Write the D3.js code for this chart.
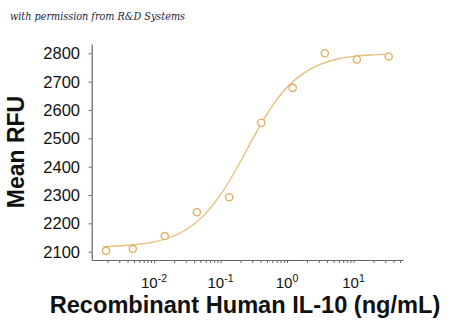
<!DOCTYPE html>
<html><head><meta charset="utf-8">
<script src="https://cdn.jsdelivr.net/npm/d3@7"></script>
<style>body{margin:0;background:#fff}svg{display:block}</style>
</head><body>
<script>
// Data
const conc = [0.0019, 0.0048, 0.0145, 0.044, 0.135, 0.41, 1.22, 3.7, 11.2, 33.8];
const rfu  = [2103, 2110, 2155, 2239, 2292, 2555, 2678, 2800, 2778, 2789];
const fitConc = [0.0017, 0.00316, 0.00562, 0.01, 0.0178, 0.0316, 0.0562, 0.1, 0.178, 0.316, 0.562, 1, 1.78, 3.16, 5.62, 10, 17.8, 35.5];
const fitRfu  = [2118, 2121, 2126, 2135, 2151, 2180, 2228, 2301, 2397, 2505, 2604, 2680, 2730, 2761, 2779, 2789, 2794, 2797];
const yTicks = [2100, 2200, 2300, 2400, 2500, 2600, 2700, 2800];
const xMajor = [0.01, 0.1, 1, 10];
const xMajorExp = ["-2", "-1", "0", "1"];
const title = "with permission from R&D Systems";
const xTitle = "Recombinant Human IL-10 (ng/mL)";
const yTitle = "Mean RFU";

const W = 450, H = 332;
const svg = d3.select("body").append("svg").attr("width", W).attr("height", H);

const x = d3.scaleLog().domain([Math.pow(10, -2.937), Math.pow(10, 1.744)]).range([91.7, 403]);
const y = d3.scaleLinear().domain([2070.7, 2832.8]).range([260, 44]);

const axisColor = "#666";
const font = "'Liberation Sans', Arial, sans-serif";

// minor ticks
const minor = [];
for (let e = -3; e <= 1; e++) for (let m = 1; m <= 9; m++) {
  const v = m * Math.pow(10, e);
  if (v >= x.domain()[0] && v <= x.domain()[1]) minor.push(v);
}

const xAxis = svg.append("g").attr("transform", "translate(0,260)")
  .call(d3.axisBottom(x).tickValues(minor).tickSize(3).tickSizeOuter(0).tickFormat(""));
xAxis.select(".domain").attr("stroke", axisColor).attr("stroke-width", 1.2);
xAxis.selectAll(".tick line").attr("stroke", axisColor).attr("stroke-width", 1);

const yAxis = svg.append("g").attr("transform", "translate(91.7,0)")
  .call(d3.axisLeft(y).tickValues(yTicks).tickSize(3).tickSizeOuter(0).tickFormat(""));
yAxis.select(".domain").attr("stroke", axisColor).attr("stroke-width", 1.2);
yAxis.selectAll(".tick line").attr("stroke", axisColor).attr("stroke-width", 1);

// y tick labels
svg.append("g").selectAll("text").data(yTicks).join("text")
  .attr("x", 80).attr("y", d => y(d)).attr("dy", "0.36em")
  .attr("text-anchor", "end").attr("font-family", font).attr("font-size", 16.5)
  .attr("fill", "#111").text(d => d);

// x tick labels
const xl = svg.append("g").selectAll("text").data(xMajor).join("text")
  .attr("x", d => x(d)).attr("y", 288)
  .attr("text-anchor", "middle").attr("font-family", font).attr("font-size", 15)
  .attr("fill", "#111");
xl.append("tspan").text("10");
xl.append("tspan").attr("font-size", 10.5).attr("dy", -6).text((d, i) => xMajorExp[i]);

// fit curve
const line = d3.line().x(d => x(d[0])).y(d => y(d[1])).curve(d3.curveCatmullRom);
svg.append("path").datum(fitConc.map((c, i) => [c, fitRfu[i]]))
  .attr("d", line).attr("fill", "none").attr("stroke", "#e8bd78").attr("stroke-width", 1.3);

// points
svg.append("g").selectAll("circle").data(conc.map((c, i) => [c, rfu[i]])).join("circle")
  .attr("cx", d => x(d[0])).attr("cy", d => y(d[1])).attr("r", 3.6)
  .attr("fill", "#fff").attr("stroke", "#e2ad58").attr("stroke-width", 1.3);

// titles
svg.append("text").attr("x", 245).attr("y", 313).attr("text-anchor", "middle")
  .attr("font-family", font).attr("font-weight", "bold").attr("font-size", 23.6)
  .attr("fill", "#111").text(xTitle);

svg.append("text").attr("transform", "translate(24,152) rotate(-90)")
  .attr("text-anchor", "middle").attr("font-family", font).attr("font-weight", "bold")
  .attr("font-size", 23).attr("fill", "#111").text(yTitle);

svg.append("text").attr("x", 10).attr("y", 20)
  .attr("font-family", "'DejaVu Serif', 'Liberation Serif', serif").attr("font-style", "italic")
  .attr("font-size", 11.5).attr("textLength", 175).attr("lengthAdjust", "spacingAndGlyphs")
  .attr("fill", "#1e1e40").text(title);
</script>
</body></html>
